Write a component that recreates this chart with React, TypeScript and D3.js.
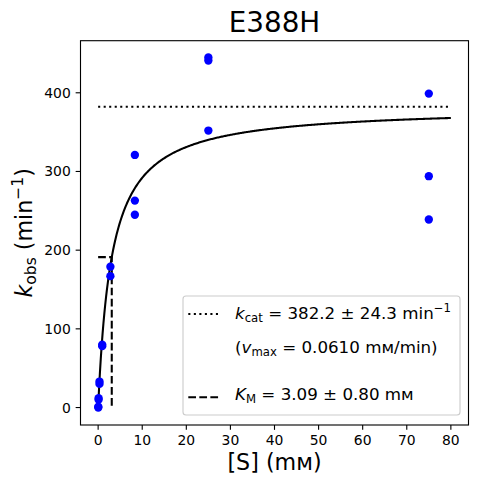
import React from 'react';
import * as d3 from 'd3';

// substrate concentrations (mM) and observed rates (min^-1)
const substrate = [
  0.0343, 0.0343,
  0.103, 0.103,
  0.309, 0.309,
  0.926, 0.926,
  2.78, 2.78,
  8.33, 8.33, 8.33,
  25, 25, 25,
  75, 75, 75,
];
const kobs = [
  0, 1,
  10, 12,
  30, 33,
  78, 80,
  167, 179,
  245, 263, 321,
  352, 441, 445,
  239, 294, 399,
];

// fitted parameters shown in the legend
const kcat = 382.2;
const KM = 3.09;
const fitRange = [0, 80];

const xTicks = [0, 10, 20, 30, 40, 50, 60, 70, 80];
const yTicks = [0, 100, 200, 300, 400];

const W = 477;
const H = 484;
const left = 80.5, right = 468.5, top = 40.7, bottom = 425;
const FONT = "'DejaVu Sans', sans-serif";

const App: React.FC = () => {
  const x = d3.scaleLinear().domain([-4, 84]).range([left, right]);
  const y = d3.scaleLinear().domain([-22.2, 466.2]).range([bottom, top]);

  const fitX = d3.range(0, 400).map(i => fitRange[0] + (fitRange[1] - fitRange[0]) * i / 399);
  const fitLine = d3.line<number>()
    .x(s => x(s))
    .y(s => y(kcat * s / (KM + s)))(fitX) ?? '';

  const dotted = '2.08,3.44';
  const dashed = '7.7,3.33';
  const lw = 2.08;

  return (
    <svg width={W} height={H} style={{ position: 'absolute', left: 0, top: 0, background: '#fff' }}
      fontFamily={FONT}>
      <rect width={W} height={H} fill="#fff" />
      <text x={(left + right) / 2} y={32.3} fontSize={27.8} textAnchor="middle">E388H</text>

      {/* fit lines */}
      <line x1={x(fitRange[0])} x2={x(fitRange[1])} y1={y(kcat)} y2={y(kcat)}
        stroke="#000" strokeWidth={lw} strokeDasharray={dotted} />
      <path d={fitLine} fill="none" stroke="#000" strokeWidth={lw} />
      <polyline points={`${x(0)},${y(kcat / 2)} ${x(KM)},${y(kcat / 2)} ${x(KM)},${y(0)}`}
        fill="none" stroke="#000" strokeWidth={lw} strokeDasharray={dashed} />

      {/* data */}
      {substrate.map((s, i) => (
        <circle key={i} cx={x(s)} cy={y(kobs[i])} r={4.17} fill="#0000ff" />
      ))}

      {/* frame */}
      <rect x={left} y={top} width={right - left} height={bottom - top} fill="none"
        stroke="#000" strokeWidth={1.11} />

      {/* x axis */}
      {xTicks.map(t => (
        <g key={t}>
          <line x1={x(t)} x2={x(t)} y1={bottom} y2={bottom + 4.86} stroke="#000" strokeWidth={1.11} />
          <text x={x(t)} y={bottom + 20} fontSize={13.9} textAnchor="middle">{t}</text>
        </g>
      ))}
      {/* y axis */}
      {yTicks.map(t => (
        <g key={t}>
          <line x1={left - 4.86} x2={left} y1={y(t)} y2={y(t)} stroke="#000" strokeWidth={1.11} />
          <text x={left - 9.7} y={y(t) + 5} fontSize={13.9} textAnchor="end">{t}</text>
        </g>
      ))}

      <text x={(left + right) / 2} y={470} fontSize={22.2} textAnchor="middle">[S] (mм)</text>
      <text transform={`translate(32,${(top + bottom) / 2}) rotate(-90)`} fontSize={22.2} textAnchor="middle">
        <tspan fontStyle="italic">k</tspan>
        <tspan fontSize={15.5} dy={4}>obs</tspan>
        <tspan dy={-4}> (min</tspan>
        <tspan fontSize={15.5} dy={-9}>−1</tspan>
        <tspan dy={9}>)</tspan>
      </text>

      {/* legend */}
      <rect x={183} y={296} width={277} height={119} rx={3} fill="#fff" fillOpacity={0.8}
        stroke="#cccccc" strokeWidth={1.11} />
      <line x1={188.3} x2={221} y1={314} y2={314} stroke="#000" strokeWidth={lw} strokeDasharray={dotted} />
      <text x={235} y={319.3} fontSize={16.7}>
        <tspan fontStyle="italic">k</tspan>
        <tspan fontSize={11.7} dy={3}>cat</tspan>
        <tspan dy={-3}> = 382.2 ± 24.3 min</tspan>
        <tspan fontSize={11.7} dy={-7}>−1</tspan>
      </text>
      <text x={235} y={353.3} fontSize={16.7}>
        <tspan>(</tspan>
        <tspan fontStyle="italic">v</tspan>
        <tspan fontSize={11.7} dy={3}>max</tspan>
        <tspan dy={-3}> = 0.0610 mм/min)</tspan>
      </text>
      <line x1={188.3} x2={221} y1={397.3} y2={397.3} stroke="#000" strokeWidth={lw} strokeDasharray={dashed} />
      <text x={235} y={400} fontSize={16.7}>
        <tspan fontStyle="italic">K</tspan>
        <tspan fontSize={11.7} dy={3}>M</tspan>
        <tspan dy={-3}> = 3.09 ± 0.80 mм</tspan>
      </text>
    </svg>
  );
};

export default App;
